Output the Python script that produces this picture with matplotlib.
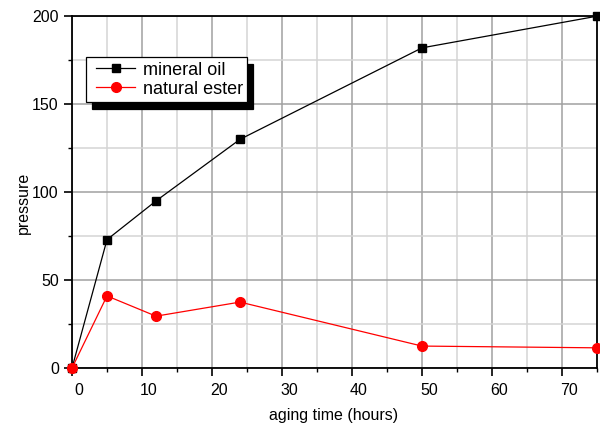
import matplotlib
matplotlib.use("Agg")
import matplotlib.pyplot as plt
import matplotlib.transforms as mtransforms
from matplotlib.legend_handler import HandlerLine2D
from matplotlib.ticker import MultipleLocator

# data
aging_hours = [0, 5, 12, 24, 50, 75]
mineral_oil = [0, 73, 95, 130, 182, 200]
natural_ester = [0, 41, 29.5, 37.5, 12.5, 11.5]

plt.rcParams['font.family'] = ['Liberation Sans', 'DejaVu Sans']

fig = plt.figure(figsize=(6, 4.26), dpi=100)
ax = fig.add_axes([0.12, 0.136, 0.875, 0.826])

oil_line, = ax.plot(aging_hours, mineral_oil, color='black', lw=0.9, marker='s', ms=6,
                    label='mineral oil', clip_on=False, zorder=3)
ester_line, = ax.plot(aging_hours, natural_ester, color='red', lw=0.9, marker='o', ms=7,
                      label='natural ester', clip_on=False, zorder=3)

ax.set_xlim(0, 75)
ax.set_ylim(0, 200)
ax.xaxis.set_major_locator(MultipleLocator(10))
ax.xaxis.set_minor_locator(MultipleLocator(5))
ax.yaxis.set_major_locator(MultipleLocator(50))
ax.yaxis.set_minor_locator(MultipleLocator(25))

# grid: darker major, lighter minor
ax.grid(which='major', color='#a0a0a0', lw=1.1)
ax.grid(which='minor', color='#d4d4d4', lw=1.1)
ax.set_axisbelow(True)

ax.tick_params(which='major', direction='out', length=6, width=1.2, labelsize=11.5)
ax.tick_params(which='minor', direction='out', length=3, width=1.0)
ax.tick_params(axis='x', which='major', pad=5)
ax.tick_params(axis='y', which='major', pad=3.5)
for s in ax.spines.values():
    s.set_linewidth(1.3)

# x tick labels sit a little right of their ticks in the original
shift = mtransforms.ScaledTranslation(5 / 72, 0, fig.dpi_scale_trans)
for lbl in ax.get_xticklabels():
    lbl.set_transform(lbl.get_transform() + shift)

ax.set_xlabel('aging time (hours)', fontsize=11.5, va='center')
ax.xaxis.set_label_coords(0.498, -0.134)
ax.set_ylabel('pressure', fontsize=11.5, va='center')
ax.yaxis.set_label_coords(-0.093, 0.469)

# a bit of extra room left of the legend handles
hmap = {oil_line: HandlerLine2D(xpad=0.28), ester_line: HandlerLine2D(xpad=0.28)}
leg = ax.legend(loc='upper left', bbox_to_anchor=(0.027, 0.884), borderaxespad=0,
                fontsize=13, fancybox=False, edgecolor='black', framealpha=1,
                handlelength=2.48, handletextpad=0.4, borderpad=0.25, labelspacing=0.12,
                handler_map=hmap,
                shadow={'color': 'black', 'alpha': 1, 'ox': 4, 'oy': -5})
leg.get_frame().set_linewidth(0.9)

fig.savefig('out.png', dpi=100)
